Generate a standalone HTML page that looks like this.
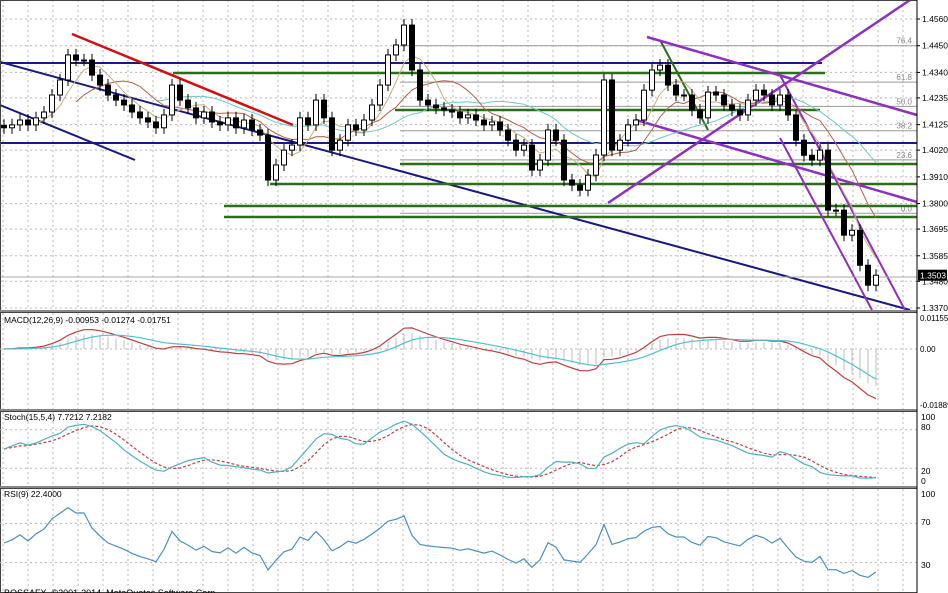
<!DOCTYPE html>
<html><head><meta charset="utf-8">
<style>
html,body{margin:0;padding:0;background:#fff;}
svg{display:block;font-family:"Liberation Sans",sans-serif;}
</style></head>
<body>
<svg id="chart" width="948" height="593" viewBox="0 0 948 593" xmlns="http://www.w3.org/2000/svg">
<rect x="0" y="0" width="948" height="593" fill="#fff"/>
<g id="grid"></g>
<g id="draw"></g>
<g id="main"></g>
<g id="ind"></g>
<g id="axis"></g>
</svg>
<script>
const closes=[1.4112,1.4124,1.4144,1.4124,1.4153,1.4177,1.4247,1.4309,1.4412,1.4391,1.4391,1.4329,1.4288,1.4247,1.4226,1.4206,1.4177,1.4153,1.4136,1.4112,1.4165,1.4288,1.4226,1.4194,1.4153,1.4177,1.4136,1.4124,1.4153,1.4112,1.4144,1.4103,1.4082,1.3897,1.3959,1.4020,1.4041,1.4153,1.4124,1.4226,1.4153,1.4020,1.4061,1.4124,1.4103,1.4144,1.4206,1.4288,1.4412,1.4453,1.4535,1.4350,1.4226,1.4206,1.4194,1.4185,1.4177,1.4153,1.4165,1.4144,1.4124,1.4136,1.4103,1.4061,1.4020,1.4041,1.3938,1.3979,1.4103,1.4061,1.3897,1.3876,1.3855,1.3917,1.4000,1.4309,1.4020,1.4061,1.4124,1.4144,1.4267,1.4350,1.4370,1.4288,1.4247,1.4247,1.4185,1.4153,1.4259,1.4247,1.4206,1.4185,1.4165,1.4226,1.4267,1.4247,1.4206,1.4247,1.4165,1.4061,1.3999,1.3979,1.4020,1.3773,1.3773,1.3670,1.3690,1.3546,1.3464,1.3505];
const priceTicks=[1.4560,1.4450,1.4340,1.4235,1.4125,1.4020,1.3910,1.3800,1.3695,1.3585,1.3480,1.3370];
const fibLabels=["76.4","61.8","50.0","38.2","23.6","0.0"];
const fibPrices=[1.4450,1.4300,1.4200,1.4100,1.3980,1.3760];
const lastPrice=1.3503;
const macdTicks=["0.01155","0.00","-0.01889"];
const stochTicks=["100","80","20","0"];
const rsiTicks=["100","70","30"];

const NS="http://www.w3.org/2000/svg";
function el(tag,attrs,parent){const e=document.createElementNS(NS,tag);for(const k in attrs)e.setAttribute(k,attrs[k]);parent.appendChild(e);return e;}
const grid=document.getElementById('grid'),draw=document.getElementById('draw'),main=document.getElementById('main'),ind=document.getElementById('ind'),axis=document.getElementById('axis');
const AX=917;
const yP=p=>19+(1.4560-p)*2428.6;
const xI=i=>4+8*i;

for(let x=3;x<AX;x+=25){
 for(const [a,b] of [[0,310],[313,409],[412,486],[489,593]]){
  const l=el('line',{x1:x,y1:a,x2:x,y2:b,stroke:'#b8b8b8','stroke-dasharray':'2,3'},grid);
  
  
 }
}
priceTicks.forEach(p=>{
 const l=el('line',{x1:0,y1:yP(p),x2:AX,y2:yP(p),stroke:'#b8b8b8','stroke-dasharray':'2,3'},grid);
 
 
 const t=el('text',{x:AX+5,y:yP(p)+3,'font-size':'8.5',fill:'#000'},axis);t.textContent=p.toFixed(4);
 
 
 el('line',{x1:AX,y1:yP(p),x2:AX+3,y2:yP(p),stroke:'#000'},axis);
});
fibPrices.forEach((p,i)=>{
 el('line',{x1:400,y1:yP(p),x2:AX,y2:yP(p),stroke:'#999','stroke-width':1},draw);
 const t=el('text',{x:912,y:yP(p)-2,'font-size':'8','text-anchor':'end',fill:'#888'},draw);t.textContent=fibLabels[i];
 
 
});
const L=(x1,y1,x2,y2,c,w,n)=>{const l=el('line',{x1,y1,x2,y2,stroke:c,'stroke-width':w},draw);};
L(0,63,822,63,'#1a1a80',2,'resistance-line');
L(0,143,AX,143,'#1a1a80',2,'support-line');
L(0,62,910,310,'#1a1a80',2,'trend-line');
L(0,105,135,160,'#1a1a80',2,'trend-line-short');
L(72,34,293,125,'#d01010',2.5,'red-trend-line');
L(173,73,825,73,'#2a6e1a',2.5,'green-level');
L(395,110,820,110,'#2a6e1a',2.5,'green-level');
L(400,164,AX,164,'#2a6e1a',2.5,'green-level');
L(270,184,AX,184,'#2a6e1a',2.5,'green-level');
L(224,206,AX,206,'#2a6e1a',2.5,'green-level');
L(224,217,AX,217,'#2a6e1a',2.5,'green-level');
L(660,40,708,130,'#2a6e1a',2,'green-trend');
L(647,37,AX,115,'#8e2fc0',2.5,'purple-channel');
L(636,120,AX,202,'#8e2fc0',2.5,'purple-channel');
L(608,203,910,0,'#8e2fc0',2.5,'purple-rising');
L(780,75,905,310,'#8e2fc0',2,'purple-fall');
L(780,138,872,310,'#8e2fc0',2,'purple-fall');
L(0,277,AX,277,'#aaa',1,'last-price-line');

function sma(n){return closes.map((c,i)=>{if(i<n-1)return null;let s=0;for(let k=i-n+1;k<=i;k++)s+=closes[k];return s/n;});}
[[20,'#6cc8c8'],[10,'#b0604a'],[5,'#c8b078']].forEach(([n,c])=>{
 const v=sma(n);let d='';v.forEach((p,i)=>{if(p!==null)d+=(d?'L':'M')+xI(i)+','+yP(p).toFixed(1);});
 const pl=el('path',{d,fill:'none',stroke:c,'stroke-width':1},main);
 
 
});
closes.forEach((c,i)=>{
 const o=i?closes[i-1]:c+0.001;
 const hi=Math.max(o,c)+0.0025,lo=Math.min(o,c)-0.0025;
 const x=xI(i);
 el('line',{x1:x,y1:yP(hi),x2:x,y2:yP(lo),stroke:'#000'},main);
 const top=yP(Math.max(o,c)),h=Math.max(1,yP(Math.min(o,c))-top);
 const r=el('rect',{x:x-2.5,y:top,width:5,height:h,fill:c>=o?'#fff':'#000',stroke:'#000','stroke-width':1},main);
 
 
});
const lp=el('rect',{x:AX+1,y:yP(lastPrice)-6,width:29,height:11,fill:'#000'},axis);


const lpt=el('text',{x:AX+3,y:yP(lastPrice)+3,'font-size':'8.5',fill:'#fff'},axis);lpt.textContent=lastPrice.toFixed(4);

[[0,311],[312,410],[411,487],[488,593]].forEach(([a,b])=>{
 el('rect',{x:0.5,y:a+0.5,width:AX-0.5,height:b-a-1,fill:'none',stroke:'#444','stroke-width':1},ind);
});
[311,410,487].forEach(y=>el('line',{x1:0,y1:y,x2:AX,y2:y,stroke:'#888','stroke-width':2},ind));

function ema(arr,n){const k=2/(n+1);let e=arr[0];return arr.map(v=>{e=v*k+e*(1-k);return e;});}
const e12=ema(closes,12),e26=ema(closes,26);
const macd=closes.map((c,i)=>e12[i]-e26[i]);
const sig=ema(macd,9);
const yM=v=>349-v*(405-349)/0.01889;
el('line',{x1:0,y1:349,x2:AX,y2:349,stroke:'#b8b8b8','stroke-dasharray':'2,3'},ind);
macd.forEach((v,i)=>{const b=el('line',{x1:xI(i),y1:349,x2:xI(i),y2:yM(v*0.75),stroke:'#c8c8c8','stroke-width':1.2},ind);});
const pth=(vals,f,c,dash,n)=>{let d='';vals.forEach((v,i)=>{d+=(i?'L':'M')+xI(i)+','+f(v).toFixed(1);});const p=el('path',{d,fill:'none',stroke:c,'stroke-width':1.2},ind);if(dash)p.setAttribute('stroke-dasharray',dash);};
pth(macd,yM,'#c04040',null,'macd-line');
pth(sig,yM,'#50c0d0',null,'signal-line');
let t=el('text',{x:4,y:323,'font-size':'8.5'},ind);t.textContent='MACD(12,26,9) -0.00953 -0.01274 -0.01751';
[[318,0],[349,1],[405,2]].forEach(([y,i])=>{const tt=el('text',{x:AX+3,y:y+3,'font-size':'8'},axis);tt.textContent=macdTicks[i];});

const K=closes.map((c,i)=>{const s=Math.max(0,i-14);let hi=-1,lo=9;for(let k=s;k<=i;k++){hi=Math.max(hi,closes[k]+0.0025);lo=Math.min(lo,closes[k]-0.0025);}return (c-lo)/(hi-lo)*100;});
const Ks=K.map((v,i)=>{const s=Math.max(0,i-4);let a=0;for(let k=s;k<=i;k++)a+=K[k];return a/(i-s+1);});
const Ds=Ks.map((v,i)=>{const s=Math.max(0,i-3);let a=0;for(let k=s;k<=i;k++)a+=Ks[k];return a/(i-s+1);});
const yS=v=>481-v*(481-417)/100;
[80,20].forEach(v=>el('line',{x1:0,y1:yS(v),x2:AX,y2:yS(v),stroke:'#b8b8b8','stroke-dasharray':'2,3'},ind));
pth(Ds,yS,'#c04040','3,2','stoch-signal');
pth(Ks,yS,'#50b0c0',null,'stoch-main');
t=el('text',{x:4,y:420,'font-size':'8.5'},ind);t.textContent='Stoch(15,5,4) 7.7212 7.2182';
[[417,0],[427,1],[471,2],[481,3]].forEach(([y,i])=>{const tt=el('text',{x:AX+4,y:y+3,'font-size':'8.5'},axis);tt.textContent=stochTicks[i];});

// RSI (Wilder smoothing)
let ag=0.0012,al=0.0012;
const rsi=closes.map((c,i)=>{const d=i?c-closes[i-1]:0;ag=(ag*8+Math.max(d,0))/9;al=(al*8+Math.max(-d,0))/9;return 100*ag/(ag+al);});
const yR=v=>592-v*(592-494)/100;
[70,30].forEach(v=>el('line',{x1:0,y1:yR(v),x2:AX,y2:yR(v),stroke:'#b8b8b8','stroke-dasharray':'2,3'},ind));
pth(rsi,yR,'#4a90c0',null,'rsi-line');
t=el('text',{x:4,y:497,'font-size':'8.5'},ind);t.textContent='RSI(9) 22.4000';
[[494,0],[522,1],[565,2]].forEach(([y,i])=>{const tt=el('text',{x:AX+4,y:y+3,'font-size':'8.5'},axis);tt.textContent=rsiTicks[i];});
t=el('text',{x:4,y:596,'font-size':'9'},ind);t.textContent='BOSSAFX, ©2001-2014, MetaQuotes Software Corp.';
el('line',{x1:AX,y1:0,x2:AX,y2:593,stroke:'#000'},axis);
</script>
</body></html>
